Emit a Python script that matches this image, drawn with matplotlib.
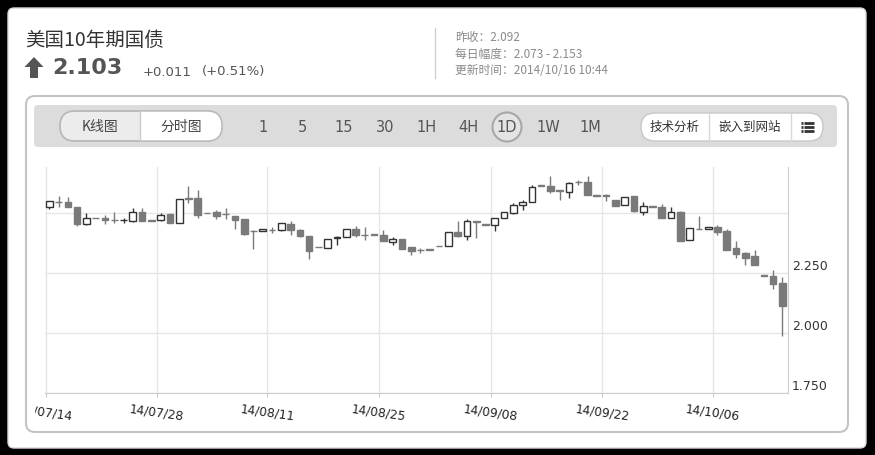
import matplotlib
matplotlib.use("Agg")
from matplotlib import pyplot as plt
from matplotlib.patches import FancyBboxPatch, Rectangle, Circle, Polygon
from matplotlib.transforms import Bbox

plt.rcParams['font.family'] = ['Noto Sans CJK SC', 'DejaVu Sans']

# daily candles (open, high, low, close)
opens = [2.524, 2.546, 2.546, 2.525, 2.453, 2.479, 2.481, 2.471, 2.470, 2.467,
         2.504, 2.468, 2.471, 2.494, 2.458, 2.560, 2.564, 2.501, 2.504, 2.494,
         2.486, 2.474, 2.425, 2.424, 2.428, 2.428, 2.454, 2.428, 2.404, 2.358,
         2.356, 2.397, 2.400, 2.435, 2.407, 2.410, 2.410, 2.381, 2.390, 2.358,
         2.346, 2.347, 2.361, 2.361, 2.419, 2.406, 2.468, 2.451, 2.451, 2.479,
         2.500, 2.533, 2.547, 2.614, 2.614, 2.593, 2.589, 2.628, 2.628, 2.572,
         2.572, 2.556, 2.533, 2.569, 2.506, 2.526, 2.526, 2.479, 2.503, 2.388,
         2.433, 2.433, 2.443, 2.426, 2.353, 2.332, 2.319, 2.239, 2.239, 2.207]
highs = [2.549, 2.571, 2.567, 2.525, 2.501, 2.479, 2.490, 2.504, 2.481, 2.521,
         2.521, 2.468, 2.501, 2.494, 2.560, 2.612, 2.594, 2.501, 2.511, 2.521,
         2.486, 2.474, 2.428, 2.435, 2.442, 2.458, 2.465, 2.435, 2.404, 2.358,
         2.393, 2.404, 2.435, 2.446, 2.442, 2.410, 2.428, 2.400, 2.390, 2.358,
         2.353, 2.347, 2.361, 2.422, 2.468, 2.475, 2.468, 2.451, 2.479, 2.503,
         2.542, 2.554, 2.617, 2.614, 2.653, 2.593, 2.631, 2.639, 2.656, 2.572,
         2.579, 2.556, 2.568, 2.572, 2.544, 2.526, 2.538, 2.526, 2.510, 2.436,
         2.486, 2.443, 2.450, 2.433, 2.385, 2.336, 2.347, 2.239, 2.264, 2.232]
lows = [2.518, 2.525, 2.524, 2.444, 2.449, 2.479, 2.453, 2.458, 2.458, 2.462,
        2.467, 2.468, 2.467, 2.458, 2.458, 2.542, 2.481, 2.499, 2.476, 2.476,
        2.435, 2.410, 2.351, 2.424, 2.417, 2.424, 2.410, 2.400, 2.310, 2.358,
        2.356, 2.365, 2.400, 2.400, 2.386, 2.410, 2.382, 2.368, 2.351, 2.326,
        2.332, 2.347, 2.361, 2.361, 2.399, 2.388, 2.396, 2.451, 2.425, 2.479,
        2.496, 2.513, 2.547, 2.614, 2.583, 2.554, 2.563, 2.617, 2.575, 2.572,
        2.551, 2.531, 2.533, 2.506, 2.492, 2.526, 2.479, 2.479, 2.382, 2.388,
        2.433, 2.433, 2.408, 2.346, 2.313, 2.283, 2.283, 2.239, 2.183, 1.989]
closes = [2.549, 2.546, 2.524, 2.453, 2.479, 2.479, 2.471, 2.471, 2.472, 2.504,
          2.467, 2.468, 2.490, 2.458, 2.560, 2.560, 2.490, 2.499, 2.489, 2.494,
          2.471, 2.414, 2.425, 2.435, 2.428, 2.458, 2.428, 2.404, 2.340, 2.358,
          2.393, 2.399, 2.435, 2.407, 2.407, 2.410, 2.382, 2.393, 2.351, 2.340,
          2.346, 2.347, 2.361, 2.422, 2.406, 2.468, 2.461, 2.451, 2.479, 2.503,
          2.535, 2.547, 2.610, 2.614, 2.593, 2.593, 2.625, 2.628, 2.575, 2.572,
          2.572, 2.531, 2.568, 2.510, 2.531, 2.526, 2.479, 2.503, 2.382, 2.436,
          2.433, 2.443, 2.422, 2.346, 2.329, 2.313, 2.283, 2.239, 2.204, 2.111]

date_ticks = [-0.4, 11.6, 23.5, 35.5, 47.6, 59.6, 71.5]
date_labels = ["14/07/14", "14/07/28", "14/08/11", "14/08/25", "14/09/08", "14/09/22", "14/10/06"]
price_ticks = [1.75, 2.0, 2.25, 2.5]
price_labels = ["1.750", "2.000", "2.250", ""]

timeframes = ["1", "5", "15", "30", "1H", "4H", "1D", "1W", "1M"]
timeframe_x = [263, 302, 344, 385, 427, 468, 507, 548, 590]

W, H = 875, 455
fig = plt.figure(figsize=(W / 100, H / 100), dpi=100, facecolor="black")

# background layer in pixel units (y downwards)
bg = fig.add_axes([0, 0, 1, 1])
bg.set_xlim(0, W)
bg.set_ylim(H, 0)
bg.axis("off")

bg.add_patch(FancyBboxPatch((8, 8), 858, 440, boxstyle="round,pad=0,rounding_size=6",
                            fc="white", ec="#d8d8d8", lw=1))

# header
bg.text(25, 40, "美国10年期国债", fontsize=14, color="#333333", va="center", ha="left")
bg.add_patch(Polygon([(34, 57), (43.5, 67), (38, 67), (38, 78), (30, 78), (30, 67), (24.5, 67)],
                     closed=True, fc="#555555", ec="none"))
bg.text(52, 68, "2.103", fontsize=16, fontweight="bold", color="#555555", va="center",
        family="DejaVu Sans")
bg.text(143, 72, "+0.011", fontsize=9.5, color="#555555", va="center", family="DejaVu Sans")
bg.text(202, 72, "(+0.51%)", fontsize=9.5, color="#555555", va="center", family="DejaVu Sans")
bg.plot([435, 435], [28, 78], color="#d0d0d0", lw=1)
bg.text(455, 37, "昨收：2.092", fontsize=8.5, color="#8a8a8a", va="center")
bg.text(455, 54, "每日幅度：2.073 - 2.153", fontsize=8.5, color="#8a8a8a", va="center")
bg.text(455, 71, "更新时间：2014/10/16 10:44", fontsize=8.5, color="#8a8a8a", va="center")

# chart panel and toolbar
bg.add_patch(FancyBboxPatch((26, 96), 822, 336, boxstyle="round,pad=0,rounding_size=9",
                            fc="white", ec="#c4c4c4", lw=1.5))
bg.add_patch(FancyBboxPatch((34, 105), 803, 42, boxstyle="round,pad=0,rounding_size=4",
                            fc="#dcdcdc", ec="none"))

pill = FancyBboxPatch((60, 111), 162, 30, boxstyle="round,pad=0,rounding_size=15",
                      fc="#ececec", ec="#b8b8b8", lw=1)
bg.add_patch(pill)
half = Rectangle((140, 108), 90, 36, fc="white", ec="none")
bg.add_patch(half)
half.set_clip_path(pill)
bg.add_patch(FancyBboxPatch((60, 111), 162, 30, boxstyle="round,pad=0,rounding_size=15",
                            fc="none", ec="#b8b8b8", lw=1))
bg.plot([140, 140], [111, 141], color="#cccccc", lw=1)
bg.text(100, 127, "K线图", fontsize=10, color="#444444", ha="center", va="center")
bg.text(181, 127, "分时图", fontsize=10, color="#444444", ha="center", va="center")

bg.add_patch(Circle((507, 127), 14.5, fc="#e4e4e4", ec="#a8a8a8", lw=1.5))
for lab, x in zip(timeframes, timeframe_x):
    bg.text(x, 127, lab, fontsize=10.5, color="#555555", ha="center", va="center",
            family="DejaVu Sans")

bg.add_patch(FancyBboxPatch((641, 113), 182, 28, boxstyle="round,pad=0,rounding_size=14",
                            fc="white", ec="#c8c8c8", lw=1))
bg.plot([709, 709], [113, 141], color="#d8d8d8", lw=1)
bg.plot([791, 791], [113, 141], color="#d8d8d8", lw=1)
bg.text(675, 127, "技术分析", fontsize=9, color="#333333", ha="center", va="center")
bg.text(750, 127, "嵌入到网站", fontsize=9, color="#333333", ha="center", va="center")
for yy in (123, 127, 131):
    bg.plot([801, 802.5], [yy, yy], color="#333333", lw=2, solid_capstyle="butt")
    bg.plot([804, 814], [yy, yy], color="#333333", lw=2, solid_capstyle="butt")

# candlestick axes
ax = fig.add_axes([45 / W, 1 - 393 / H, 743 / W, 226 / H])
ax.set_facecolor("none")
x0 = (45 - 49.3) / 9.28
ax.set_xlim(x0, x0 + 743 / 9.28)
ax.set_ylim(1.75, 1.75 + 226 / 240)

up_col, dn_col = "#333333", "#7a7a7a"
for i, (o, h, l, c) in enumerate(zip(opens, highs, lows, closes)):
    up = c > o
    col = up_col if up else dn_col
    ax.vlines(i, l, h, color=col, lw=1, zorder=2)
    ax.bar(i, max(abs(c - o), 0.0015), bottom=min(o, c), width=0.72,
           color="white" if up else dn_col, edgecolor=col, lw=1, zorder=3)

ax.set_xticks(date_ticks)
ax.set_xticklabels(date_labels, rotation=-8, fontsize=8.8, color="#222222",
                   family="DejaVu Sans", ha="center")
ax.yaxis.tick_right()
ax.set_yticks(price_ticks)
ax.set_yticklabels(price_labels, fontsize=9, color="#333333", family="DejaVu Sans")
plt.setp(ax.get_yticklabels(), va="bottom")
ax.tick_params(axis="y", length=0, pad=3)
ax.tick_params(axis="x", length=3, color="#cccccc", pad=4)
ax.grid(color="#e6e6e6", lw=1)
ax.set_axisbelow(True)
for s in ("left", "top"):
    ax.spines[s].set_visible(False)
for s in ("right", "bottom"):
    ax.spines[s].set_color("#cccccc")

fig.canvas.draw()
first = ax.xaxis.get_major_ticks()[0].label1
first.set_clip_box(Bbox.from_extents(35, 0, W, H))
first.set_clip_on(True)

fig.savefig("out.png", dpi=100, facecolor="black")
